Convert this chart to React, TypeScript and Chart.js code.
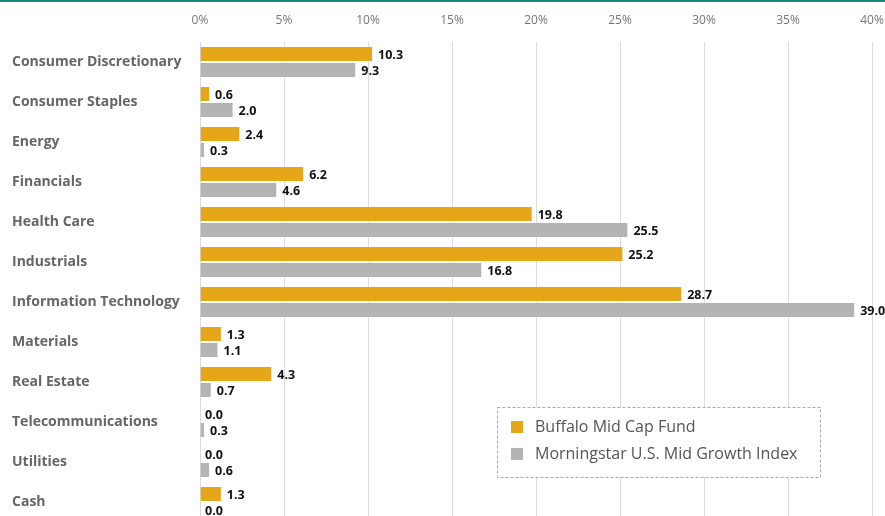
import React, { useEffect, useRef } from "react";
import { Chart, registerables } from "chart.js";

Chart.register(...registerables);

const categories = [
  "Consumer Discretionary",
  "Consumer Staples",
  "Energy",
  "Financials",
  "Health Care",
  "Industrials",
  "Information Technology",
  "Materials",
  "Real Estate",
  "Telecommunications",
  "Utilities",
  "Cash",
];
const fundName = "Buffalo Mid Cap Fund";
const indexName = "Morningstar U.S. Mid Growth Index";
const fundValues = [10.3, 0.6, 2.4, 6.2, 19.8, 25.2, 28.7, 1.3, 4.3, 0.0, 0.0, 1.3];
const indexValues = [9.3, 2.0, 0.3, 4.6, 25.5, 16.8, 39.0, 1.1, 0.7, 0.3, 0.6, 0.0];
const xTicks = [0, 5, 10, 15, 20, 25, 30, 35, 40];

const ORANGE = "#E5A619";
const GRAY = "#B4B4B4";
const FONT = "'Open Sans', 'Noto Sans', sans-serif";

const valueLabels = {
  id: "valueLabels",
  afterDatasetsDraw(chart: any) {
    const ctx = chart.ctx;
    ctx.save();
    ctx.font = `bold 12.5px ${FONT}`;
    ctx.fillStyle = "#111";
    ctx.textBaseline = "middle";
    ctx.textAlign = "left";
    chart.data.datasets.forEach((ds: any, di: number) => {
      const meta = chart.getDatasetMeta(di);
      meta.data.forEach((bar: any, i: number) => {
        const v = ds.data[i];
        ctx.fillText(v.toFixed(1), bar.x + 5, bar.y + 1);
      });
    });
    ctx.restore();
  },
};

const boxLegend = {
  id: "boxLegend",
  afterDraw(chart: any) {
    const ctx = chart.ctx;
    const x = 497.5, y = 407.5, w = 323, h = 70;
    ctx.save();
    ctx.fillStyle = "#fff";
    ctx.fillRect(x, y, w, h);
    ctx.setLineDash([3, 2]);
    ctx.strokeStyle = "#a8a8a8";
    ctx.lineWidth = 1;
    ctx.strokeRect(x, y, w, h);
    ctx.setLineDash([]);
    const items = [
      { label: fundName, color: ORANGE },
      { label: indexName, color: GRAY },
    ];
    ctx.font = `16px ${FONT}`;
    ctx.textBaseline = "middle";
    ctx.textAlign = "left";
    items.forEach((it, i) => {
      const cy = 427 + i * 27;
      ctx.fillStyle = it.color;
      ctx.fillRect(511, cy - 6, 12, 12);
      ctx.fillStyle = "#555";
      ctx.fillText(it.label, 535, cy);
    });
    ctx.restore();
  },
};

export default function App() {
  const ref = useRef<HTMLCanvasElement | null>(null);
  useEffect(() => {
    document.body.style.margin = "0";
    document.documentElement.style.overflow = "hidden";
    if (!ref.current) return;
    const chart = new Chart(ref.current, {
      type: "bar",
      data: {
        labels: categories,
        datasets: [
          {
            label: fundName,
            data: fundValues,
            backgroundColor: ORANGE,
            borderColor: "rgba(255,255,255,0.35)",
            borderWidth: 1,
            categoryPercentage: 0.8,
            barPercentage: 1.0,
          },
          {
            label: indexName,
            data: indexValues,
            backgroundColor: GRAY,
            borderColor: "rgba(255,255,255,0.35)",
            borderWidth: 1,
            categoryPercentage: 0.8,
            barPercentage: 1.0,
          },
        ],
      },
      options: {
        indexAxis: "y",
        animation: false,
        responsive: false,
        maintainAspectRatio: false,
        layout: { padding: { left: 12, right: 13, top: 0, bottom: 0 } },
        plugins: {
          legend: { display: false },
          tooltip: { enabled: false },
        },
        scales: {
          x: {
            position: "top",
            min: 0,
            max: 40,
            afterBuildTicks(scale: any) {
              scale.ticks = xTicks.map((v) => ({ value: v }));
            },
            afterFit(scale: any) {
              scale.height = 42;
              scale.paddingLeft = 0;
              scale.paddingRight = 0;
            },
            ticks: {
              callback: (v: any) => `${v}%`,
              color: "#777",
              font: { family: FONT, size: 12 },
              padding: 14,
              maxRotation: 0,
            },
            grid: { color: "#dcdcdc", drawTicks: false },
            border: { display: false },
          },
          y: {
            afterFit(scale: any) {
              scale.width = 188;
              scale.paddingTop = 0;
              scale.paddingBottom = 0;
            },
            ticks: {
              crossAlign: "far",
              color: "#666",
              font: { family: FONT, size: 14, weight: "bold" },
            },
            grid: { display: false },
            border: { color: "#d3dbe8", width: 1 },
          },
        },
      },
      plugins: [valueLabels, boxLegend],
    });
    return () => chart.destroy();
  }, []);
  return (
    <div style={{ position: "relative", width: 885, height: 522 }}>
      <div
        style={{
          position: "absolute",
          top: 0,
          left: 0,
          width: 885,
          height: 2,
          background: "#168a7c",
        }}
      />
      <canvas ref={ref} width={885} height={522} style={{ display: "block" }} />
    </div>
  );
}
